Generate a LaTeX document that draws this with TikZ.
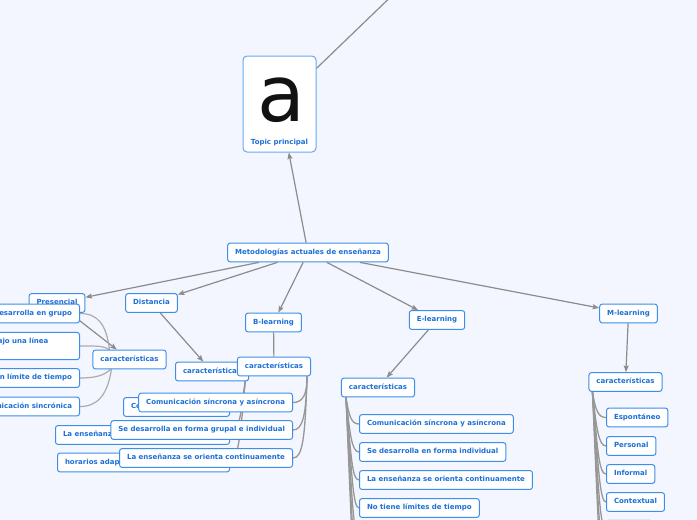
\documentclass[tikz,border=0pt]{standalone}
\usepackage{fontspec}
\setmainfont{DejaVu Sans}
\usetikzlibrary{arrows.meta}
\definecolor{bgc}{HTML}{F3F6FE}
\definecolor{nodeblue}{HTML}{3D8EEA}
\definecolor{textblue}{HTML}{1C6FD6}
\definecolor{linegray}{HTML}{8C8C8C}
\definecolor{curvegray}{HTML}{979797}
\definecolor{curvelight}{HTML}{ABABAB}
\definecolor{topicblue}{HTML}{66A8F2}
\pgfdeclarelayer{back}
\pgfdeclarelayer{lines}
\pgfsetlayers{back,lines,main}
\begin{document}
\begin{tikzpicture}[x=1pt,y=-1pt,
  box/.style={draw=nodeblue, fill=white, line width=1pt, rounded corners=2.5pt,
    text=textblue, font=\fontsize{7pt}{8.4pt}\selectfont\bfseries,
    inner xsep=7.5pt, inner ysep=6pt, text height=5.2pt, text depth=1.6pt},
  topicbox/.style={draw=topicblue, fill=white, line width=1pt, rounded corners=4pt,
    minimum width=73pt, minimum height=96pt, inner sep=0pt},
  lbl/.style={text=textblue, font=\fontsize{7pt}{8.4pt}\selectfont\bfseries, inner sep=0pt},
  arr/.style={draw=linegray, line width=1.2pt, -{Stealth[length=6.5pt,width=5pt,inset=1pt]}},
  plain/.style={draw=linegray, line width=1.2pt},
  curve/.style={draw=curvegray, line width=1.3pt},
  lcurve/.style={draw=curvelight, line width=1.2pt}
]
\begin{pgfonlayer}{back}
\fill[bgc] (0,0) rectangle (697,520);
\end{pgfonlayer}
\useasboundingbox (0,0) rectangle (697,520);

% main topic
\node[topicbox] (topic) at (279.5,104) {};
\node[font=\fontsize{78pt}{78pt}\selectfont, text=black!93, inner sep=0pt, anchor=base] (glyph) at (281,121) {a};
\node[lbl] (topiclabel) at (279.5,142.5) {Topic principal};
\coordinate (offtop) at (457,-67);

\node[box] (meta) at (308,252.5) {Metodologías actuales de enseñanza};
\node[box] (pres) at (57,303) {Presencial};
\node[box] (dist) at (151.5,303) {Distancia};
\node[box] (blearn) at (273.5,322.5) {B-learning};
\node[box] (elearn) at (437,320) {E-learning};
\node[box] (mlearn) at (628.5,313.5) {M-learning};

% Presencial
\node[box] (pchar) at (129.5,359.5) {características};
\node[box, anchor=east] (p1) at (80,313.5) {Se desarrolla en grupo};
\node[box, anchor=east, align=left, text width=122pt, text height=5.2pt, text depth=10pt] (p2) at (80,346) {Se trabaja bajo una línea\\de tiempo};
\node[box, anchor=east] (p3) at (80,378) {Con límite de tiempo};
\node[box, anchor=east] (p4) at (80,406.5) {Comunicación sincrónica};

% Distancia
\node[box, anchor=west] (dchar) at (175,371.5) {características};
\node[box, anchor=west] (d1) at (123,407) {\makebox[91pt][l]{Comunicación asíncrona}};
\node[box, anchor=west] (d2) at (55,435) {\makebox[159pt][l]{La enseñanza se orienta al estudiante}};
\node[box, anchor=west] (d3) at (57,462.5) {\makebox[157pt][l]{horarios adaptables}};

% B-learning
\node[box] (bchar) at (274,366.5) {características};
\node[box, anchor=east] (b1) at (293,402.5) {Comunicación síncrona y asíncrona};
\node[box, anchor=east] (b2) at (293,430) {Se desarrolla en forma grupal e individual};
\node[box, anchor=east] (b3) at (293,458) {La enseñanza se orienta continuamente};

% E-learning
\node[box] (echar) at (378,387.5) {características};
\node[box, anchor=west] (e1) at (359,424) {Comunicación síncrona y asíncrona};
\node[box, anchor=west] (e2) at (359,452) {Se desarrolla en forma individual};
\node[box, anchor=west] (e3) at (359,480) {La enseñanza se orienta continuamente};
\node[box, anchor=west] (e4) at (359,508) {No tiene límites de tiempo};
\coordinate (e5) at (359,536);
\coordinate (e6) at (359,564);
\coordinate (e7) at (359,592);

% M-learning
\node[box] (mchar) at (625.5,382) {características};
\node[box, anchor=west] (m1) at (606,417.5) {Espontáneo};
\node[box, anchor=west] (m2) at (606,446) {Personal};
\node[box, anchor=west] (m3) at (606,474) {Informal};
\node[box, anchor=west] (m4) at (606,502) {Contextual};
\node[box, anchor=west, draw=nodeblue!45, minimum width=46pt] (m5) at (606,529.5) {};
\coordinate (m6) at (606,557);
\coordinate (m7) at (606,585);

\begin{pgfonlayer}{lines}
\draw[arr] (meta) -- (topic);
\draw[plain] (topic) -- (offtop);
\draw[arr] (meta) -- (pres);
\draw[arr] (meta) -- (dist);
\draw[arr] (meta) -- (blearn);
\draw[arr] (meta) -- (elearn);
\draw[arr] (meta) -- (mlearn);
\draw[arr] (pres) -- (pchar);
\draw[arr] (dist) -- (dchar);
\draw[plain] (blearn) -- (bchar);
\draw[arr] (elearn) -- (echar);
\draw[arr] (mlearn) -- (mchar);

% Presencial children
\draw[lcurve] ([xshift=17pt]pchar.north west) .. controls +(-3,-25) and +(18,0) .. (p1.east);
\draw[lcurve] ([xshift=17pt]pchar.north west) .. controls +(-6,-4) and +(15,0) .. (p2.east);
\draw[lcurve] ([xshift=18pt]pchar.south west) .. controls +(-6,6) and +(15,0) .. (p3.east);
\draw[lcurve] ([xshift=19pt]pchar.south west) .. controls +(-4,25) and +(18,0) .. (p4.east);

% Distancia children
\draw[curve] ([xshift=-4pt]dchar.south east) .. controls +(-1,16) and +(9,0) .. (d1.east);
\draw[curve] ([xshift=-4pt]dchar.south east) .. controls +(-3,30) and +(8,0) .. (d2.east);
\draw[curve] ([xshift=-4pt]dchar.south east) .. controls +(-4,50) and +(8,0) .. (d3.east);

% B-learning children
\draw[curve] ([xshift=-4pt]bchar.south east) .. controls +(0,18) and +(10,0) .. (b1.east);
\draw[curve] ([xshift=-4pt]bchar.south east) .. controls +(-1,38) and +(10,0) .. (b2.east);
\draw[curve] ([xshift=-4pt]bchar.south east) .. controls +(-2,60) and +(10,0) .. (b3.east);

% E-learning children
\draw[curve] ([xshift=5pt]echar.south west) .. controls +(3,18) and +(-8,0) .. (e1.west);
\draw[curve] ([xshift=5pt]echar.south west) .. controls +(4,38) and +(-7,0) .. (e2.west);
\draw[curve] ([xshift=5pt]echar.south west) .. controls +(5,58) and +(-7,0) .. (e3.west);
\draw[curve] ([xshift=5pt]echar.south west) .. controls +(6,78) and +(-6,0) .. (e4.west);
\draw[curve] ([xshift=5pt]echar.south west) .. controls +(6,97) and +(-6,0) .. (e5);
\draw[curve] ([xshift=5pt]echar.south west) .. controls +(6,117) and +(-6,0) .. (e6);
\draw[curve] ([xshift=5pt]echar.south west) .. controls +(6,136) and +(-6,0) .. (e7);

% M-learning children
\draw[curve] ([xshift=4pt]mchar.south west) .. controls +(3,18) and +(-8,0) .. (m1.west);
\draw[curve] ([xshift=4pt]mchar.south west) .. controls +(4,38) and +(-7,0) .. (m2.west);
\draw[curve] ([xshift=4pt]mchar.south west) .. controls +(5,58) and +(-7,0) .. (m3.west);
\draw[curve] ([xshift=4pt]mchar.south west) .. controls +(6,78) and +(-6,0) .. (m4.west);
\draw[curve] ([xshift=4pt]mchar.south west) .. controls +(6,97) and +(-6,0) .. (m5.west);
\draw[curve] ([xshift=4pt]mchar.south west) .. controls +(6,117) and +(-6,0) .. (m6);
\draw[curve] ([xshift=4pt]mchar.south west) .. controls +(6,136) and +(-6,0) .. (m7);
\end{pgfonlayer}
\end{tikzpicture}
\end{document}
